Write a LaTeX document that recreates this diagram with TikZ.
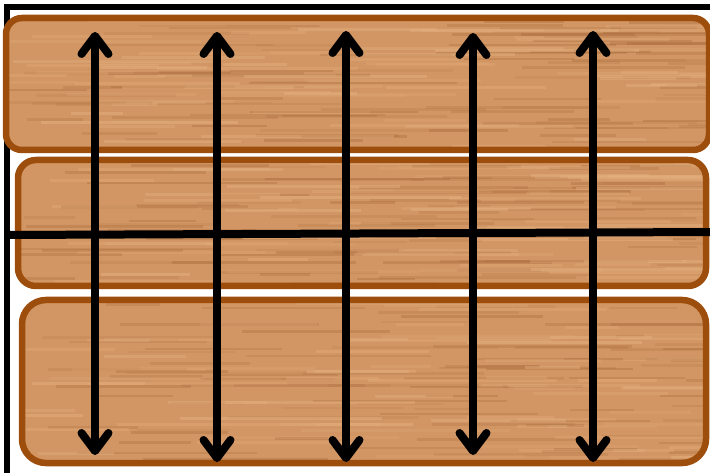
\documentclass[tikz,border=0pt]{standalone}
\usetikzlibrary{arrows.meta}
\definecolor{woodbase}{RGB}{210,150,100}
\definecolor{wooddark}{RGB}{165,102,55}
\definecolor{woodlight}{RGB}{230,180,130}
\definecolor{boardline}{RGB}{158,78,12}
\tikzset{
  board/.style={draw=boardline, line width=6.5pt},
  dbl/.style={line width=8pt, {Straight Barb[length=18pt,width=27pt,round]}-{Straight Barb[length=18pt,width=27pt,round]}},
  rule/.style={line width=8pt}
}
\newcommand{\woodboard}[5]{% x1 y1 x2 y2 radius
  \begin{scope}
    \clip[rounded corners=#5] (#1,#2) rectangle (#3,#4);
    \fill[woodbase] (#1,#2) rectangle (#3,#4);
    \foreach \k in {1,...,90} {
      \pgfmathsetmacro\yy{#2+rnd*(#4-#2)}
      \pgfmathsetmacro\xa{#1-20+rnd*(#3-#1)}
      \pgfmathsetmacro\ln{50+rnd*160}
      \pgfmathsetmacro\op{0.10+rnd*0.25}
      \draw[wooddark, opacity=\op, line width=2.6pt] (\xa,\yy) -- ++(\ln,0);
    }
    \foreach \k in {1,...,70} {
      \pgfmathsetmacro\yy{#2+rnd*(#4-#2)}
      \pgfmathsetmacro\xa{#1-20+rnd*(#3-#1)}
      \pgfmathsetmacro\ln{50+rnd*160}
      \pgfmathsetmacro\op{0.15+rnd*0.3}
      \draw[woodlight, opacity=\op, line width=3pt] (\xa,\yy) -- ++(\ln,0);
    }
  \end{scope}
  \draw[board, rounded corners=#5] (#1,#2) rectangle (#3,#4);
}
\begin{document}
\begin{tikzpicture}[x=1pt,y=-1pt]
\pgfmathsetseed{7}
\useasboundingbox (0,0) rectangle (710,473);
\fill[white] (0,0) rectangle (710,473);
\begin{scope}
\clip (0,0) rectangle (710,473);
% outer frame
\draw[line width=5.5pt] (7,7) rectangle (730,490);
% boards
\woodboard{6}{18}{709}{150}{16}
\woodboard{18}{160}{706}{286}{18}
\woodboard{22}{300}{706}{463}{24}
% horizontal rule
\coordinate (hl) at (7,235);
\coordinate (hr) at (712,232);
\draw[rule] (hl) -- (hr);
% arrows
\coordinate (t1) at (95,32);  \coordinate (b1) at (95,455);
\coordinate (t2) at (217,32); \coordinate (b2) at (217,462);
\coordinate (t3) at (346,31); \coordinate (b3) at (346,462);
\coordinate (t4) at (473,33); \coordinate (b4) at (473,455);
\coordinate (t5) at (593,31); \coordinate (b5) at (593,462);
\foreach \i in {1,...,5} { \draw[dbl] (t\i) -- (b\i); }
\end{scope}
\end{tikzpicture}
\end{document}
